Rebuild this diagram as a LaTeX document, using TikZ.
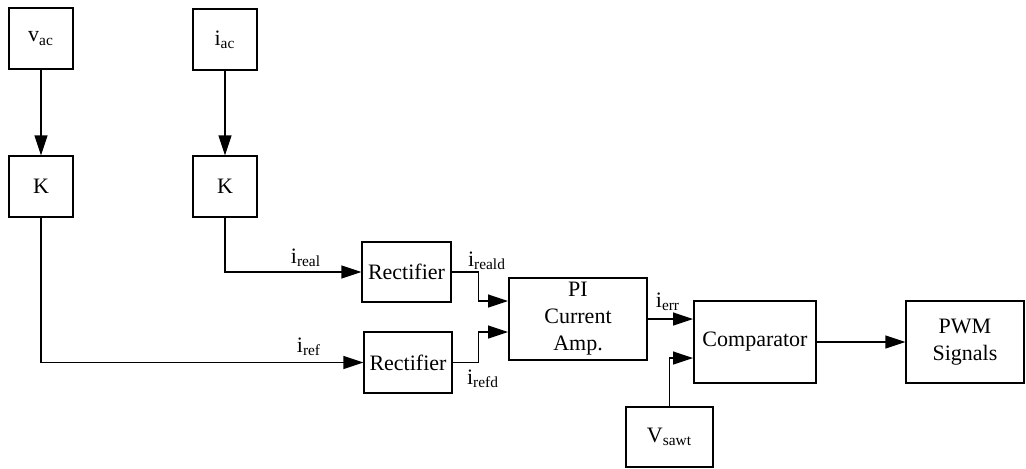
\documentclass[tikz,border=0pt]{standalone}
\usepackage{fontspec}
\setmainfont{Liberation Serif}
\usepackage{tikz}
\usetikzlibrary{arrows.meta,positioning,calc}
\tikzset{
  block/.style={draw=black,line width=0.6pt,align=center,inner sep=0pt,
    minimum width=32pt,minimum height=30.5pt,font=\fontsize{11}{13.5}\selectfont},
  arrow/.style={-{Triangle[length=10pt,width=6.5pt]},draw=black,line width=0.65pt},
  labelstyle/.style={font=\fontsize{11}{13}\selectfont,inner sep=0pt}
}
\begin{document}
\begin{tikzpicture}[x=0.5pt,y=-0.5pt]
  \useasboundingbox (0,0) rectangle (1026,468);
  \node[block] (vac) at (41,38.5) {v\textsubscript{ac}};
  \node[block] (kv) at (41,186.5) {K};
  \node[block] (iac) at (225,39.5) {i\textsubscript{ac}};
  \node[block] (ki) at (225,186.5) {K};
  \node[block,minimum width=44.5pt,minimum height=30pt] (recta) at (406.5,272) {Rectifier};
  \node[block,minimum width=44pt,minimum height=30.5pt] (rectb) at (408,362.5) {Rectifier};
  \node[block,minimum width=69pt,minimum height=41pt] (pi) at (578,319) {PI\\Current\\Amp.};
  \node[block,minimum width=61pt,minimum height=41pt] (comp) at (755,342) {Comparator};
  \node[block,minimum width=59pt,minimum height=41pt] (pwm) at (965,342) {PWM\\Signals};
  \node[block,minimum width=43.5pt,minimum height=30pt] (saw) at (669.5,437) {V\textsubscript{sawt}};
  \coordinate (pia) at (508,301);
  \coordinate (pib) at (508,332);
  \coordinate (cpa) at (693,319);
  \coordinate (cpb) at (693,358);
  \draw[arrow] (vac)--(kv);
  \draw[arrow] (iac)--(ki);
  \draw[arrow] (ki.south) |- (recta.west);
  \draw[arrow] (kv.south) |- (rectb.west);
  \draw[arrow] (recta.east) -- ++(27,0) |- (pia);
  \draw[arrow] (rectb.east) -- ++(26,0) |- (pib);
  \draw[arrow] (pi.east) -- (cpa);
  \draw[arrow] (saw.north) |- (cpb);
  \draw[arrow] (comp.east) -- (pwm.west);
  \node[labelstyle] (lreal) at (306,258) {i\textsubscript{real}};
  \node[labelstyle] (lref) at (309,347) {i\textsubscript{ref}};
  \node[labelstyle] (lreald) at (487,261) {i\textsubscript{reald}};
  \node[labelstyle] (lrefd) at (483,379) {i\textsubscript{refd}};
  \node[labelstyle] (lerr) at (668,302) {i\textsubscript{err}};
\end{tikzpicture}
\end{document}
